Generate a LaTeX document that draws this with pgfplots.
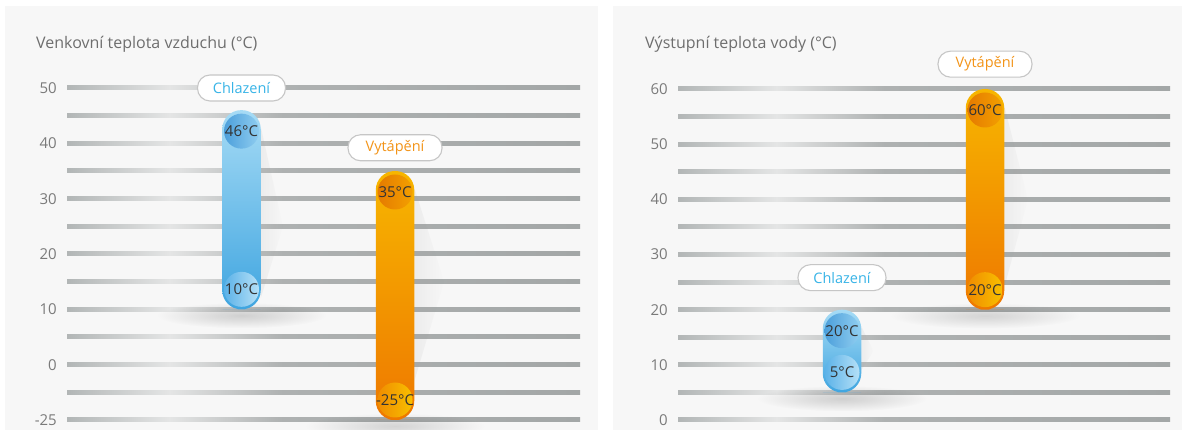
\documentclass[border=0pt]{standalone}
\usepackage{pgfplots}
\pgfplotsset{compat=1.18}
\usepackage{fontspec}
\setmainfont{Open Sans}
\usetikzlibrary{fadings}

\definecolor{panel}{HTML}{F7F7F7}
\definecolor{gA}{HTML}{B2B6B6}
\definecolor{gL}{HTML}{E4E5E5}
\definecolor{gB}{HTML}{AEB1B1}
\definecolor{gC}{HTML}{A3A7A7}
\definecolor{bTop}{HTML}{A6DBF5}
\definecolor{bBot}{HTML}{3FA5E0}
\definecolor{oTop}{HTML}{F7B600}
\definecolor{oBot}{HTML}{EE7800}
\definecolor{tickc}{HTML}{7A7A7A}
\definecolor{titlec}{HTML}{6E6E6E}
\definecolor{lblue}{HTML}{38B4E7}
\definecolor{lorange}{HTML}{F39418}
\definecolor{darktxt}{HTML}{333333}
\definecolor{boxline}{HTML}{C6C6C6}
\definecolor{cbt1}{HTML}{4C9FDB}
\definecolor{cbt2}{HTML}{8FCDF0}
\definecolor{cbb1}{HTML}{5BB2E8}
\definecolor{cbb2}{HTML}{B5E0F7}
\definecolor{cot1}{HTML}{E57A00}
\definecolor{cot2}{HTML}{F3A000}
\definecolor{cob1}{HTML}{F08C00}
\definecolor{cob2}{HTML}{F8C000}

\pgfdeclarehorizontalshading{gridsh}{100bp}{color(0bp)=(gA); color(25bp)=(gA); color(35bp)=(gL); color(46bp)=(gB); color(75bp)=(gC); color(100bp)=(gC)}
\tikzfading[name=softfade, inner color=transparent!0, outer color=transparent!100]
\tikzfading[name=fadeeast, left color=transparent!10, right color=transparent!100]

\newcommand{\fnt}{\fontsize{15}{17}\selectfont}
\newcommand{\tfnt}{\fontsize{16}{18}\selectfont}
\newcommand{\bfnt}{\fontsize{14.5}{17}\selectfont}

\pgfplotsset{
  panelaxis/.style={
    anchor=south west, scale only axis, clip=false,
    axis x line=none, axis y line=left,
    y axis line style={draw=none}, ytick style={draw=none},
    major tick length=0pt,
    yticklabel style={font=\fnt, text=tickc, inner sep=0pt, xshift=-10pt},
  },
}
\tikzset{
  lbl/.style={draw=boxline, line width=1.1pt, fill=white, rounded corners=12.5pt,
    minimum height=26pt, minimum width=88pt, inner sep=0pt, font=\bfnt},
  vlbl/.style={font=\fnt, text=darktxt, inner sep=0pt},
}

\begin{document}
\begin{tikzpicture}
\useasboundingbox (0pt,0pt) rectangle (1182pt,430pt);
\fill[white] (0pt,0pt) rectangle (1182pt,430pt);
\fill[panel] (5pt,0pt) rectangle (598pt,424pt);
\fill[panel] (613pt,0pt) rectangle (1182pt,424pt);
\node[anchor=base west, text=titlec, font=\tfnt, inner sep=0pt] at (36pt,381pt) {Venkovní teplota vzduchu (°C)};
\node[anchor=base west, text=titlec, font=\tfnt, inner sep=0pt] at (645pt,381pt) {Výstupní teplota vody (°C)};

% ---------------- left panel ----------------
\begin{axis}[panelaxis,
  at={(67pt,10pt)}, width=513pt, height=332pt,
  xmin=-0.1368, xmax=3.205, ymin=-25, ymax=50,
  y coord trafo/.code={\pgfmathparse{ifthenelse(#1<(-5),-5+(#1+5)/4,#1)}},
  ytick={-25,0,10,20,30,40,50},
  yticklabels={-25,0,10,20,30,40,50},
]
\pgfplotsinvokeforeach{-25,-5,0,5,10,15,20,25,30,35,40,45,50}{
  \shade[shading=gridsh] ({rel axis cs:0,0}|-{axis cs:0,#1}) ++(0pt,-2pt) rectangle ++(513pt,4pt);
}
% shadows
\fill[black, opacity=0.16, path fading=softfade] (axis cs:1,10) ++(0pt,-6pt) ellipse [x radius=85pt, y radius=13pt];
\fill[black, opacity=0.14, path fading=softfade] (axis cs:2,-25) ++(0pt,-6pt) ellipse [x radius=90pt, y radius=13pt];
\fill[black!40, opacity=0.12, path fading=fadeeast] (axis cs:1.1254,43) -- (axis cs:1.27,25) -- (axis cs:1.1254,12) -- cycle;
\fill[black!40, opacity=0.12, path fading=fadeeast] (axis cs:2.1254,32) -- (axis cs:2.32,15) -- (axis cs:2.1254,-3) -- cycle;
% bars (Chlazení 10..46, Vytápění -25..35)
\addplot[draw=none, top color=bTop, bottom color=bBot, rounded corners=19pt]
  coordinates {(1,10) (1.1254,10) (1.1254,46) (0.8746,46) (0.8746,10)} -- cycle;
\addplot[draw=none, top color=oTop, bottom color=oBot, rounded corners=19pt]
  coordinates {(2,-25) (2.1254,-25) (2.1254,35) (1.8746,35) (1.8746,-25)} -- cycle;
% end circles
\shade[left color=cbt1, right color=cbt2] (axis cs:1,46) ++(0pt,-21pt) circle[radius=17.5pt];
\shade[left color=cbb1, right color=cbb2] (axis cs:1,10) ++(0pt,20pt) circle[radius=17.5pt];
\shade[left color=cot1, right color=cot2] (axis cs:2,35) ++(0pt,-21pt) circle[radius=17.5pt];
\shade[left color=cob1, right color=cob2] (axis cs:2,-25) ++(0pt,20pt) circle[radius=17.5pt];
\node[vlbl, yshift=-21pt] at (axis cs:1,46) {46°C};
\node[vlbl, yshift=20pt] at (axis cs:1,10) {10°C};
\node[vlbl, yshift=-21pt] at (axis cs:2,35) {35°C};
\node[vlbl, yshift=20pt] at (axis cs:2,-25) {-25°C};
% labels
\node[lbl, text=lblue] at (axis cs:1,50) {Chlazení};
\node[lbl, text=lorange, minimum width=94pt] at (axis cs:2,39.2) {Vytápění};
\end{axis}

% ---------------- right panel ----------------
\begin{axis}[panelaxis,
  at={(678pt,10pt)}, width=492pt, height=331pt,
  xmin=-0.1469, xmax=3.2937, ymin=0, ymax=60,
  ytick={0,10,20,30,40,50,60},
  yticklabels={0,10,20,30,40,50,60},
]
\pgfplotsinvokeforeach{0,5,10,15,20,25,30,35,40,45,50,55,60}{
  \shade[shading=gridsh] ({rel axis cs:0,0}|-{axis cs:0,#1}) ++(0pt,-2pt) rectangle ++(492pt,4pt);
}
\fill[black, opacity=0.16, path fading=softfade] (axis cs:1,5) ++(0pt,-6pt) ellipse [x radius=85pt, y radius=13pt];
\fill[black, opacity=0.14, path fading=softfade] (axis cs:2,20) ++(0pt,-6pt) ellipse [x radius=95pt, y radius=13pt];
\fill[black!40, opacity=0.12, path fading=fadeeast] (axis cs:2.1346,57) -- (axis cs:2.30,40) -- (axis cs:2.1346,24) -- cycle;
\fill[black!40, opacity=0.12, path fading=fadeeast] (axis cs:1.1346,17) -- (axis cs:1.22,12.5) -- (axis cs:1.1346,9) -- cycle;
% bars (Chlazení 5..20, Vytápění 20..60)
\addplot[draw=none, top color=bTop, bottom color=bBot, rounded corners=19pt]
  coordinates {(1,5) (1.1346,5) (1.1346,20) (0.8654,20) (0.8654,5)} -- cycle;
\addplot[draw=none, top color=oTop, bottom color=oBot, rounded corners=19pt]
  coordinates {(2,20) (2.1346,20) (2.1346,60) (1.8654,60) (1.8654,20)} -- cycle;
\shade[left color=cbt1, right color=cbt2] (axis cs:1,20) ++(0pt,-21pt) circle[radius=17.5pt];
\shade[left color=cbb1, right color=cbb2] (axis cs:1,5) ++(0pt,20pt) circle[radius=17.5pt];
\shade[left color=cot1, right color=cot2] (axis cs:2,60) ++(0pt,-21pt) circle[radius=17.5pt];
\shade[left color=cob1, right color=cob2] (axis cs:2,20) ++(0pt,20pt) circle[radius=17.5pt];
\node[vlbl, yshift=-21pt] at (axis cs:1,20) {20°C};
\node[vlbl, yshift=20pt] at (axis cs:1,5) {5°C};
\node[vlbl, yshift=-21pt] at (axis cs:2,60) {60°C};
\node[vlbl, yshift=20pt] at (axis cs:2,20) {20°C};
\node[lbl, text=lblue] at (axis cs:1,25.8) {Chlazení};
\node[lbl, text=lorange, minimum width=94pt] at (axis cs:2,64.5) {Vytápění};
\end{axis}
\end{tikzpicture}
\end{document}
